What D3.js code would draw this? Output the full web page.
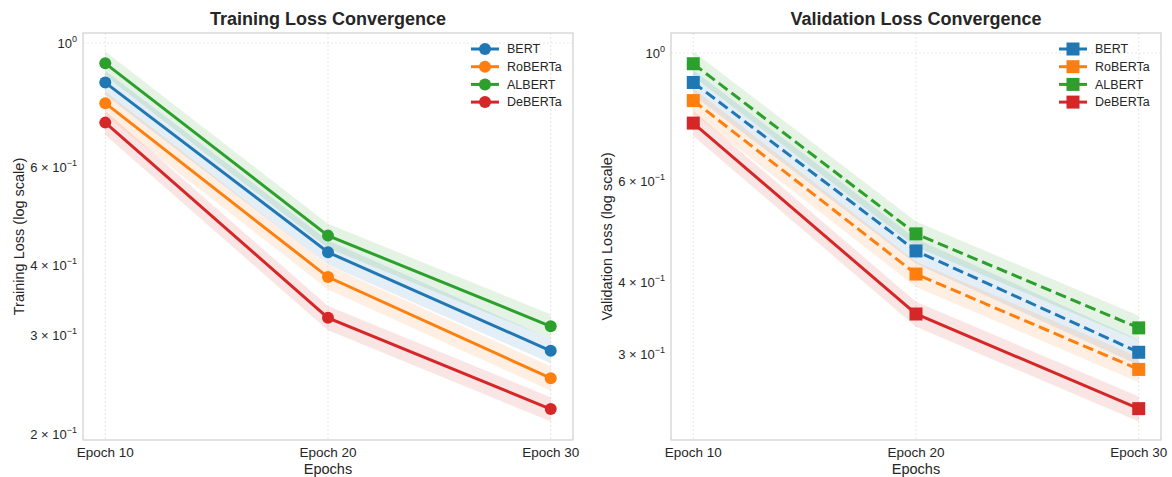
<!DOCTYPE html>
<html lang="en">
<head>
<meta charset="UTF-8">
<title>Loss Convergence</title>
<script src="https://cdn.jsdelivr.net/npm/d3@7/dist/d3.min.js"></script>
<style>
  body { margin: 0; background: #fff; }
  text { font-family: "Liberation Sans", Arial, sans-serif; fill: #262626; }
</style>
</head>
<body>
<div id="chart"></div>
<script>
// data
const epochs = ["Epoch 10", "Epoch 20", "Epoch 30"];
const models = ["BERT", "RoBERTa", "ALBERT", "DeBERTa"];
const colors = ["#1f77b4", "#ff7f0e", "#2ca02c", "#d62728"];

const trainBert = [0.850, 0.423, 0.282];
const trainRoberta = [0.781, 0.382, 0.252];
const trainAlbert = [0.920, 0.453, 0.312];
const trainDeberta = [0.721, 0.323, 0.222];

const valBert = [0.889, 0.454, 0.303];
const valRoberta = [0.827, 0.414, 0.283];
const valAlbert = [0.958, 0.486, 0.334];
const valDeberta = [0.756, 0.353, 0.242];

const bandFrac = 0.05; // +-5% shaded band
const yTickValues = [1, 0.6, 0.4, 0.3, 0.2];

const width = 1172, height = 477;
const svg = d3.select("#chart").append("svg").attr("width", width).attr("height", height);

const panels = [
  { title: "Training Loss Convergence", ylabel: "Training Loss (log scale)",
    series: [trainBert, trainRoberta, trainAlbert, trainDeberta],
    x0: 83, marker: "circle", dashed: [false, false, false, false] },
  { title: "Validation Loss Convergence", ylabel: "Validation Loss (log scale)",
    series: [valBert, valRoberta, valAlbert, valDeberta],
    x0: 671, marker: "square", dashed: [true, true, true, false] }
];
const plotTop = 33, plotW = 490, plotH = 407;

function tickLabel(sel, v) {
  const exp = Math.floor(Math.log10(v) + 1e-9);
  const mant = Math.round(v / Math.pow(10, exp));
  const base = mant === 1 ? "10" : mant + " \u00d7 10";
  sel.append("tspan").text(base);
  sel.append("tspan").attr("dy", -6).attr("font-size", 9).text(exp < 0 ? "\u2212" + (-exp) : exp);
}

panels.forEach(p => {
  const g = svg.append("g").attr("transform", `translate(${p.x0},${plotTop})`);

  // log domain with 5% margin like matplotlib
  const lo = d3.min(p.series.flat()) * (1 - bandFrac);
  const hi = d3.max(p.series.flat()) * (1 + bandFrac);
  const l0 = Math.log10(lo), l1 = Math.log10(hi), m = (l1 - l0) * 0.05;
  const y = d3.scaleLog().domain([Math.pow(10, l0 - m), Math.pow(10, l1 + m)]).range([plotH, 0]);
  const x = d3.scaleLinear().domain([-0.1, 2.1]).range([0, plotW]);

  // grid
  g.selectAll(".vgrid").data(epochs).enter().append("line")
    .attr("x1", (d, i) => x(i)).attr("x2", (d, i) => x(i))
    .attr("y1", 0).attr("y2", plotH)
    .attr("stroke", "#e8e8e8").attr("stroke-dasharray", "2,2").attr("stroke-width", 1);
  g.append("line").attr("x1", 0).attr("x2", plotW).attr("y1", y(1)).attr("y2", y(1))
    .attr("stroke", "#e8e8e8").attr("stroke-dasharray", "2,2").attr("stroke-width", 1);

  // bands
  const area = d3.area().x((d, i) => x(i))
    .y0(d => y(d * (1 - bandFrac))).y1(d => y(d * (1 + bandFrac)));
  p.series.forEach((s, k) => {
    g.append("path").datum(s).attr("d", area)
      .attr("fill", colors[k]).attr("fill-opacity", 0.12);
  });

  // lines and markers
  const line = d3.line().x((d, i) => x(i)).y(d => y(d));
  p.series.forEach((s, k) => {
    g.append("path").datum(s).attr("d", line)
      .attr("fill", "none").attr("stroke", colors[k]).attr("stroke-width", 3)
      .attr("stroke-dasharray", p.dashed[k] ? "11,5" : null);
    if (p.marker === "circle") {
      g.selectAll(".m" + k).data(s).enter().append("circle")
        .attr("cx", (d, i) => x(i)).attr("cy", d => y(d)).attr("r", 6)
        .attr("fill", colors[k]);
    } else {
      g.selectAll(".m" + k).data(s).enter().append("rect")
        .attr("x", (d, i) => x(i) - 6.5).attr("y", d => y(d) - 6.5)
        .attr("width", 13).attr("height", 13).attr("fill", colors[k]);
    }
  });

  // frame
  g.append("rect").attr("width", plotW).attr("height", plotH)
    .attr("fill", "none").attr("stroke", "#cfcfcf").attr("stroke-width", 1.2);

  // y tick labels
  const [dmin, dmax] = y.domain();
  g.selectAll(".ytick").data(yTickValues.filter(v => v >= dmin && v <= dmax)).enter()
    .append("text").attr("x", -6).attr("y", d => y(d)).attr("dy", "0.35em")
    .attr("text-anchor", "end").attr("font-size", 13)
    .each(function (d) { tickLabel(d3.select(this), d); });

  // x tick labels
  g.selectAll(".xtick").data(epochs).enter().append("text")
    .attr("x", (d, i) => x(i)).attr("y", plotH + 17)
    .attr("text-anchor", "middle").attr("font-size", 13.5).text(d => d);

  // axis labels and title
  g.append("text").attr("x", plotW / 2).attr("y", plotH + 34)
    .attr("text-anchor", "middle").attr("font-size", 14.5).text("Epochs");
  g.append("text").attr("transform", `translate(-59,${plotH / 2}) rotate(-90)`)
    .attr("text-anchor", "middle").attr("font-size", 14.5).text(p.ylabel);
  g.append("text").attr("x", plotW / 2).attr("y", -8)
    .attr("text-anchor", "middle").attr("font-size", 18).attr("font-weight", "bold")
    .text(p.title);

  // legend
  const lg = g.append("g").attr("transform", `translate(${plotW - 88},16)`);
  models.forEach((name, k) => {
    const row = lg.append("g").attr("transform", `translate(0,${k * 17.7})`);
    row.append("line").attr("x1", -14).attr("x2", 14)
      .attr("stroke", colors[k]).attr("stroke-width", 3);
    if (p.marker === "circle") {
      row.append("circle").attr("r", 6).attr("fill", colors[k]);
    } else {
      row.append("rect").attr("x", -6.5).attr("y", -6.5).attr("width", 13).attr("height", 13)
        .attr("fill", colors[k]);
    }
    row.append("text").attr("x", 22).attr("dy", "0.35em").attr("font-size", 12.5).text(name);
  });
});
</script>
</body>
</html>
